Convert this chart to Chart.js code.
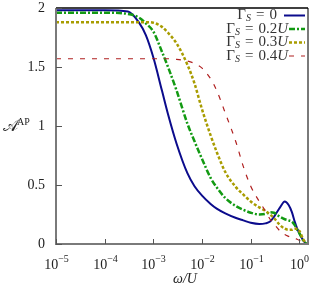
<!DOCTYPE html>
<html>
<head>
<meta charset="utf-8">
<script src="https://cdn.jsdelivr.net/npm/chart.js@4"></script>
<style>
  html, body { margin: 0; padding: 0; background: #fff; }
  #wrap { width: 312px; height: 288px; }
</style>
</head>
<body>
<div id="wrap"><canvas id="c" width="312" height="288"></canvas></div>
<script>
// omega / U sample points
const omega = [1e-5, 1e-4, 3e-4, 5e-4, 7e-4, 1e-3, 1.5e-3, 2e-3, 3e-3, 5e-3, 7e-3, 1e-2,
  1.5e-2, 2e-2, 3e-2, 5e-2, 7e-2, 0.1, 0.15, 0.2, 0.25, 0.3, 0.4, 0.5, 0.6, 0.7, 0.8, 0.9, 1.0, 1.2, 1.4];

const gamma0 = [1.98, 1.98, 1.97, 1.88, 1.77, 1.58, 1.30, 1.10, 0.85, 0.60, 0.49, 0.41,
  0.34, 0.30, 0.26, 0.22, 0.20, 0.18, 0.17, 0.175, 0.19, 0.23, 0.31, 0.36, 0.33, 0.27, 0.19, 0.13, 0.09, 0.03, 0.0];
const gamma02 = [1.96, 1.96, 1.95, 1.92, 1.87, 1.80, 1.63, 1.50, 1.30, 1.02, 0.87, 0.72,
  0.56, 0.48, 0.39, 0.32, 0.29, 0.265, 0.25, 0.255, 0.27, 0.265, 0.23, 0.21, 0.20, 0.19, 0.16, 0.12, 0.09, 0.03, 0.0];
const gamma03 = [1.88, 1.88, 1.88, 1.88, 1.88, 1.875, 1.84, 1.79, 1.70, 1.52, 1.36, 1.14,
  0.92, 0.78, 0.61, 0.48, 0.42, 0.36, 0.31, 0.28, 0.25, 0.22, 0.16, 0.13, 0.12, 0.12, 0.13, 0.13, 0.11, 0.04, 0.0];
const gamma04 = [1.57, 1.57, 1.57, 1.57, 1.57, 1.57, 1.57, 1.57, 1.565, 1.55, 1.53, 1.49,
  1.40, 1.30, 1.11, 0.86, 0.66, 0.49, 0.36, 0.28, 0.21, 0.17, 0.11, 0.08, 0.065, 0.055, 0.05, 0.04, 0.03, 0.01, 0.0];

const xTicks = [1e-5, 1e-4, 1e-3, 1e-2, 1e-1, 1];
const xExp = ['−5', '−4', '−3', '−2', '−1', '0'];
const yTicks = [0, 0.5, 1, 1.5, 2];
const yTickLabels = ['0', '0.5', '1', '1.5', '2'];

const series = [
  { label: '0', data: gamma0, color: '#0b0b8c', width: 2, dash: [] },
  { label: '0.2', data: gamma02, color: '#129a12', width: 2.5, dash: [6, 2, 2, 2] },
  { label: '0.3', data: gamma03, color: '#a89c00', width: 2.5, dash: [3, 2] },
  { label: '0.4', data: gamma04, color: '#b02020', width: 1.2, dash: [5, 7] }
];

const serif = '"Liberation Serif", "DejaVu Serif", serif';

const decor = {
  id: 'decor',
  afterDraw(chart) {
    const ctx = chart.ctx;
    const a = chart.chartArea;
    const xs = chart.scales.x, ys = chart.scales.y;
    ctx.save();
    // frame
    ctx.lineWidth = 2;
    ctx.strokeStyle = '#7a7a7a';
    ctx.beginPath();
    ctx.moveTo(a.left, a.top); ctx.lineTo(a.left, a.bottom);
    ctx.lineTo(a.right, a.bottom); ctx.lineTo(a.right, a.top);
    ctx.stroke();
    ctx.strokeStyle = '#000';
    ctx.lineWidth = 1.5;
    ctx.beginPath();
    ctx.moveTo(a.left, a.top); ctx.lineTo(a.right, a.top);
    ctx.stroke();

    // ticks
    ctx.strokeStyle = '#555';
    ctx.lineWidth = 1;
    ctx.fillStyle = '#222';
    ctx.font = '14px ' + serif;
    ctx.textAlign = 'right';
    ctx.textBaseline = 'middle';
    yTicks.forEach((v, i) => {
      const py = Math.round(ys.getPixelForValue(v)) + 0.5;
      ctx.beginPath(); ctx.moveTo(a.left, py); ctx.lineTo(a.left + 6, py); ctx.stroke();
      ctx.fillText(yTickLabels[i], a.left - 11, py);
    });
    xTicks.forEach((v, i) => {
      const px = Math.round(xs.getPixelForValue(v)) + 0.5;
      ctx.beginPath(); ctx.moveTo(px, a.bottom); ctx.lineTo(px, a.bottom - 5); ctx.stroke();
      ctx.font = '14px ' + serif;
      const bw = ctx.measureText('10').width;
      ctx.font = '10px ' + serif;
      const ew = ctx.measureText(xExp[i]).width;
      const x0 = px - (bw + ew) / 2;
      ctx.textAlign = 'left';
      ctx.textBaseline = 'alphabetic';
      ctx.font = '14px ' + serif;
      ctx.fillText('10', x0, a.bottom + 25);
      ctx.font = '10px ' + serif;
      ctx.fillText(xExp[i], x0 + bw, a.bottom + 18);
    });

    // axis titles
    ctx.font = 'italic 14px ' + serif;
    ctx.textAlign = 'center';
    ctx.fillText('ω/U', (a.left + a.right) / 2 + 3, a.bottom + 39);
    const y1 = ys.getPixelForValue(1);
    ctx.textAlign = 'left';
    ctx.font = '16px ' + serif;
    ctx.fillText('𝒜', 3, y1 + 5);
    ctx.font = '10px ' + serif;
    ctx.fillText('AP', 17, y1 - 1);

    // legend, built right to left
    const rows = [15.5, 29, 42.5, 56];
    series.forEach((s, i) => {
      const ry = rows[i];
      let x = 288;
      ctx.textBaseline = 'middle';
      ctx.textAlign = 'right';
      ctx.fillStyle = '#333';
      if (s.label === '0') {
        x = 277;
        ctx.font = '15px ' + serif;
        ctx.fillText('0', x, ry);
        x -= ctx.measureText('0').width;
      } else {
        ctx.font = 'italic 15px ' + serif;
        ctx.fillText('U', x, ry);
        x -= ctx.measureText('U').width;
        ctx.font = '15px ' + serif;
        ctx.fillText(s.label, x, ry);
        x -= ctx.measureText(s.label).width;
      }
      x -= 5;
      ctx.font = '15px ' + serif;
      ctx.fillText('=', x, ry);
      x -= ctx.measureText('=').width + 5;
      ctx.font = 'italic 10px ' + serif;
      ctx.fillText('S', x, ry + 3);
      x -= ctx.measureText('S').width;
      ctx.font = '15px ' + serif;
      ctx.fillText('Γ', x, ry);

      ctx.strokeStyle = s.color;
      ctx.lineWidth = s.width;
      ctx.setLineDash(s.dash);
      ctx.beginPath();
      ctx.moveTo(s.label === '0' ? 284 : 289, ry);
      ctx.lineTo(305, ry);
      ctx.stroke();
      ctx.setLineDash([]);
    });
    ctx.restore();
  }
};

new Chart(document.getElementById('c'), {
  type: 'line',
  data: {
    datasets: series.map(s => ({
      label: s.label,
      data: omega.map((w, i) => ({ x: w, y: s.data[i] })),
      borderColor: s.color,
      borderWidth: s.width,
      borderDash: s.dash,
      pointRadius: 0,
      fill: false,
      cubicInterpolationMode: 'monotone'
    })).reverse()
  },
  options: {
    responsive: false,
    animation: false,
    layout: { padding: { left: 56, top: 8, right: 4, bottom: 44 } },
    plugins: { legend: { display: false }, tooltip: { enabled: false } },
    scales: {
      x: { type: 'logarithmic', min: 1e-5, max: 1.5, display: false },
      y: { type: 'linear', min: 0, max: 2, display: false }
    }
  },
  plugins: [decor]
});
</script>
</body>
</html>
